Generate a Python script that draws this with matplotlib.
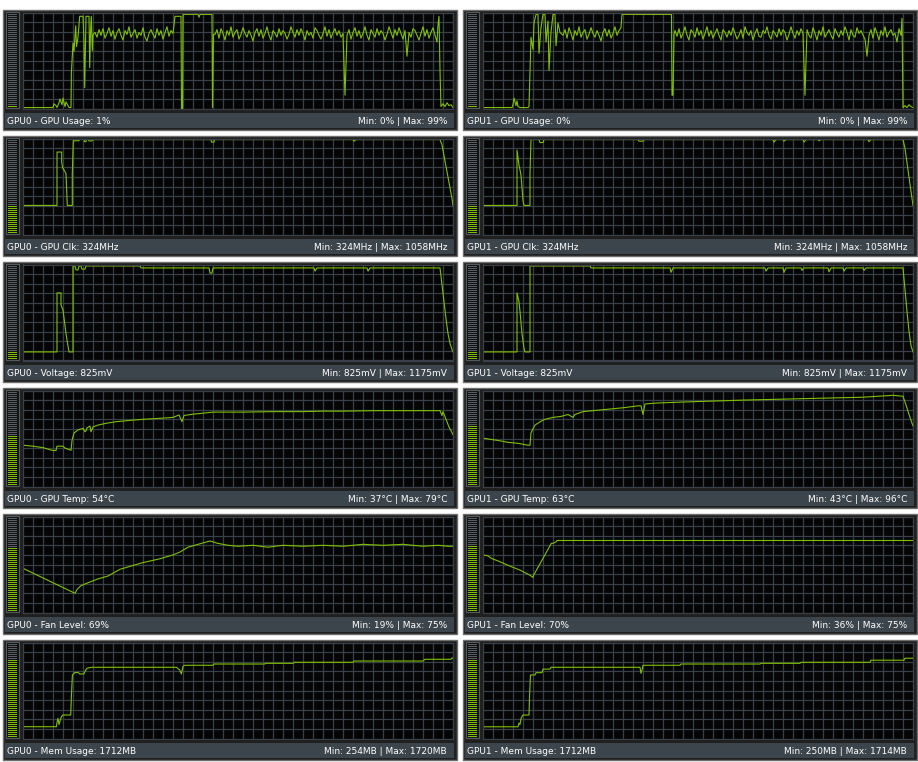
import numpy as np
import matplotlib.pyplot as plt
from matplotlib.patches import Rectangle

W, H = 918, 762

# ---- GPU usage (%) ----
u0_head_x = [0, 30, 31, 33, 34, 36, 37, 39, 40, 42, 43, 45, 46, 48, 48.4, 50, 51, 52.7, 53.5, 55, 56.7, 60, 61, 61.7, 63, 64, 66, 66.7, 67.5, 68.3, 69.3, 70]
u0_head_y = [1, 1, 5, 3, 1, 6, 10, 4, 11, 2, 7, 3, 1, 1, 38, 69, 60, 87, 65, 75, 97, 97, 70, 22, 97, 97, 97, 43, 80, 97, 61, 78]
u0_noise1 = [80, 75, 83, 77, 84, 74, 79, 85, 76, 82, 73, 80, 84, 77, 72, 82, 78, 86, 75, 79,
             83, 74, 80, 77, 85, 75, 71, 79, 83, 78, 74, 84, 77, 82, 73, 80, 86, 76, 82, 79]
u0_mid_x = [152, 156, 158, 158.5, 159.5, 160, 175, 176, 177, 189, 189.5, 190.5]
u0_mid_y = [97, 97, 97, 0, 0, 99, 99, 96, 99, 99, 1, 78]
u0_noise2 = [78, 83, 74, 84, 79, 72, 82, 77, 86, 75, 80, 83, 73, 78, 85, 79,
             75, 82, 77, 71, 80, 84, 76, 83, 74, 79, 86, 77, 72, 82, 79, 75,
             84, 77, 82, 79, 73, 78, 86, 80, 75, 83, 77, 84, 79, 72, 82, 77,
             80, 74, 85, 82, 77, 73, 79, 86, 76, 83, 74, 80, 84, 77, 82, 75,
             79, 14, 77, 83, 73, 80, 85, 76, 82, 74, 79, 86, 77, 72, 83, 79,
             75, 84, 77, 82, 79, 72, 78, 86, 80, 74, 83, 77, 85, 79, 73, 82,
             55, 80, 75, 84, 82, 77, 72, 79, 86, 76, 83, 74, 80, 85, 77, 70]
u0_tail_x = [415, 416, 417, 418, 420, 422, 424, 426, 428, 430]
u0_tail_y = [88, 97, 40, 2, 5, 2, 6, 3, 4, 1]

u1_head_x = [0, 29, 30, 31, 33, 34, 35, 37, 45, 46, 47, 48, 50, 51, 53, 55, 56, 58, 60, 62, 63, 65, 66, 68, 70, 72, 73, 75, 77, 78]
u1_head_y = [1, 1, 4, 11, 3, 8, 2, 1, 1, 2, 40, 75, 62, 90, 99, 99, 58, 85, 99, 99, 70, 92, 40, 80, 99, 99, 66, 90, 80, 79]
u1_noise1 = [77, 83, 74, 85, 79, 72, 82, 77, 86, 75, 80, 83, 73, 78, 85, 79, 75, 82, 77, 71,
             80, 84, 76, 83, 74, 79, 86, 77, 82]
u1_mid_x = [138, 139, 140, 188.5, 189, 190, 191]
u1_mid_y = [85, 99, 99, 99, 14, 14, 78]
u1_noise2 = [82, 76, 84, 74, 79, 86, 77, 72, 83, 80, 75, 85, 77, 82, 73, 79,
             86, 76, 82, 74, 79, 84, 77, 72, 83, 80, 75, 82, 77, 85, 79, 73,
             77, 83, 74, 86, 80, 77, 82, 72, 79, 84, 76, 75, 82, 79, 86, 77,
             73, 82, 79, 75, 84, 77, 83, 80, 72, 78, 86, 79, 74, 82, 77, 84,
             79, 14, 83, 77, 74, 85, 79, 72, 82, 77, 86, 75, 79, 83, 77, 73,
             84, 79, 75, 82, 77, 86, 80, 72, 83, 77, 75, 85, 79, 82, 77, 73,
             55, 77, 83, 74, 85, 79, 72, 82, 77, 86, 75, 80, 83, 77, 79, 70,
             84, 77]
u1_tail_x = [419, 420, 422, 424, 426, 428, 430]
u1_tail_y = [95, 1, 3, 1, 4, 2, 1]

# ---- GPU clock (MHz) ----
clk0_x = [0, 34, 34, 38.7, 38.7, 39.7, 42, 43, 43.7, 44.3, 49.3, 49.3, 50.3, 56, 56.5, 61, 61.5, 63, 63.5, 65,
          66, 69, 70, 188, 188.5, 191, 191.5, 330, 331, 333, 417, 419, 421, 423, 425, 427, 429, 430]
clk0_y = [324, 324, 919, 919, 808, 741, 700, 680, 485, 324, 324, 680, 1045, 1045, 1061, 1061, 1035, 1035, 1061, 1061,
          1043, 1043, 1058, 1058, 1030, 1030, 1058, 1058, 1040, 1058, 1058, 1000, 880, 760, 640, 520, 400, 324]
clk1_x = [0, 34, 34, 36, 37, 38, 40, 41, 47, 47, 48, 56, 57, 60, 61, 155, 156, 160, 161, 290,
          291, 293, 300, 301, 303, 320, 321, 323, 335, 336, 338, 385, 386, 388, 420, 422, 424, 426, 428, 430]
clk1_y = [324, 324, 940, 770, 720, 660, 380, 324, 324, 680, 1058, 1058, 1025, 1025, 1058, 1058, 1040, 1040, 1058, 1058,
          1030, 1058, 1058, 1040, 1058, 1058, 1030, 1058, 1058, 1045, 1058, 1058, 1035, 1058, 1058, 960, 800, 640, 480, 324]

# ---- voltage (mV) ----
v0_x = [0, 34, 34, 38, 38, 40, 43, 44, 46, 50, 50, 52, 53, 55, 56, 58, 59, 62, 63, 117,
        118, 186, 187, 189, 190, 291, 292, 294, 344, 345, 347, 417, 419, 421, 423, 425, 427, 429, 430]
v0_y = [825, 825, 1066, 1066, 1017, 996, 900, 874, 825, 825, 1176, 1176, 1160, 1160, 1176, 1176, 1163, 1163, 1176, 1176,
        1168, 1168, 1147, 1147, 1168, 1168, 1155, 1168, 1168, 1155, 1168, 1168, 1100, 1030, 960, 900, 860, 835, 825]
v1_x = [0, 34, 34, 36, 37, 39, 41, 42, 47, 47, 107, 108, 187, 188, 190, 282, 283, 285, 300, 301,
        303, 318, 319, 321, 345, 346, 348, 360, 361, 363, 380, 381, 383, 420, 422, 424, 426, 428, 430]
v1_y = [825, 825, 1066, 1030, 990, 900, 840, 825, 825, 1176, 1176, 1168, 1168, 1150, 1168, 1168, 1155, 1168, 1168, 1150,
        1168, 1168, 1158, 1168, 1168, 1152, 1168, 1168, 1155, 1168, 1168, 1158, 1168, 1168, 1080, 990, 910, 850, 825]

# ---- temperature (°C) ----
t0_x = [0, 10, 20, 28, 30, 33, 34, 40, 42, 48, 49, 51, 55, 60, 62, 63, 64, 67, 68, 70,
        75, 83, 93, 103, 120, 137, 150, 156, 159, 161, 171, 177, 190, 220, 250, 280, 300, 320, 350, 380,
        410, 417, 419, 420, 423, 426, 430]
t0_y = [43, 42, 40.5, 38, 37.5, 37.5, 42, 42, 40, 37.7, 48, 55.7, 59, 60.6, 57, 58, 61, 63, 57, 62,
        64, 65.8, 67.5, 68.5, 70, 71, 72, 74.5, 67.5, 74, 75.5, 76, 77.5, 77.5, 78, 78, 78.5, 78.5, 79, 79,
        79, 79, 74, 78, 70, 62, 54]
t1_x = [0, 8, 15, 25, 35, 45, 47, 48, 50, 52, 55, 58, 62, 70, 78, 85, 90, 92, 100, 120,
        140, 155, 158, 160, 162, 175, 200, 230, 260, 300, 340, 380, 410, 420, 423, 426, 430]
t1_y = [50.5, 49, 48, 46, 45, 43, 43, 56, 60, 64, 66, 68, 70, 72, 73, 75, 72, 75, 78, 80,
        82, 84, 84, 75, 86, 87, 88, 89, 90, 91, 92, 93, 95, 94, 85, 75, 63]

# ---- fan level (%) ----
f0_x = [0, 52, 54, 58, 65, 75, 85, 97, 110, 120, 137, 150, 157, 165, 175, 187, 195, 205, 215, 230,
        245, 260, 280, 300, 320, 340, 360, 380, 400, 415, 425, 430]
f0_y = [46, 20, 24, 28, 31, 35, 38, 45, 49, 52, 56, 60, 63, 68, 71, 74.5, 72, 70, 69, 70,
        68, 70, 69, 70, 69, 71, 70, 71, 69, 70, 69, 69]
f1_x = [0, 5, 8.4, 16.7, 26.7, 36.7, 46.7, 50, 50.7, 68.3, 70, 73.4, 74, 430]
f1_y = [60, 59, 56.4, 53, 48.4, 44.3, 39, 36.6, 39, 72, 72, 73.8, 75, 75]

# ---- memory usage (MB) ----
m0_x = [0, 33.4, 34, 35, 36, 37.4, 38.4, 40, 47.7, 48.4, 49.4, 51.7, 55, 56.7, 60.7, 62.7, 64, 68.4, 153.4, 156.7,
        158.4, 160, 161.7, 190, 190.7, 241.7, 242.4, 270, 271.7, 330, 331, 400, 402, 428, 429, 430]
m0_y = [252, 252, 337, 431, 300, 400, 465, 501, 501, 900, 1355, 1404, 1410, 1376, 1376, 1461, 1498, 1519, 1519, 1461,
        1376, 1540, 1562, 1562, 1589, 1589, 1604, 1604, 1626, 1626, 1653, 1653, 1690, 1690, 1717, 1717]
m1_x = [0, 35, 36, 37, 38, 39, 40, 46, 46.5, 47.5, 52, 53, 59, 60, 67, 68, 157, 158, 159, 160,
        197, 198, 277, 278, 317, 318, 387, 388, 421, 422, 430]
m1_y = [250, 250, 330, 300, 420, 470, 501, 501, 880, 1355, 1355, 1404, 1404, 1480, 1480, 1519, 1519, 1390, 1460, 1562,
        1562, 1589, 1589, 1604, 1604, 1626, 1626, 1670, 1670, 1712, 1712]

# graph ranges for each row
ylims = [(0, 101), (0, 1070), (790, 1182), (0, 100), (0, 100), (0, 2048)]

labels0 = ["GPU0 - GPU Usage: 1%", "GPU0 - GPU Clk: 324MHz", "GPU0 - Voltage: 825mV",
           "GPU0 - GPU Temp: 54°C", "GPU0 - Fan Level: 69%", "GPU0 - Mem Usage: 1712MB"]
minmax0 = ["Min: 0% | Max: 99%", "Min: 324MHz | Max: 1058MHz", "Min: 825mV | Max: 1175mV",
           "Min: 37°C | Max: 79°C", "Min: 19% | Max: 75%", "Min: 254MB | Max: 1720MB"]
labels1 = ["GPU1 - GPU Usage: 0%", "GPU1 - GPU Clk: 324MHz", "GPU1 - Voltage: 825mV",
           "GPU1 - GPU Temp: 63°C", "GPU1 - Fan Level: 70%", "GPU1 - Mem Usage: 1712MB"]
minmax1 = ["Min: 0% | Max: 99%", "Min: 324MHz | Max: 1058MHz", "Min: 825mV | Max: 1175mV",
           "Min: 43°C | Max: 96°C", "Min: 36% | Max: 75%", "Min: 250MB | Max: 1714MB"]
current0 = [1, 324, 825, 54, 69, 1712]
current1 = [0, 324, 825, 63, 70, 1712]

GREEN = '#80c000'
GRID = '#3a4047'


def usage_series(hx, hy, n1, n1_start, mx, my, n2, tx, ty):
    # noisy parts are sampled every 2 graph pixels
    xs = hx + list(range(n1_start, n1_start + 2 * len(n1), 2)) + mx + list(range(192, 192 + 2 * len(n2), 2)) + tx
    ys = hy + n1 + my + n2 + ty
    return xs, ys


series0 = [usage_series(u0_head_x, u0_head_y, u0_noise1, 72, u0_mid_x, u0_mid_y, u0_noise2, u0_tail_x, u0_tail_y),
           (clk0_x, clk0_y), (v0_x, v0_y), (t0_x, t0_y), (f0_x, f0_y), (m0_x, m0_y)]
series1 = [usage_series(u1_head_x, u1_head_y, u1_noise1, 80, u1_mid_x, u1_mid_y, u1_noise2, u1_tail_x, u1_tail_y),
           (clk1_x, clk1_y), (v1_x, v1_y), (t1_x, t1_y), (f1_x, f1_y), (m1_x, m1_y)]

fig = plt.figure(figsize=(W / 100, H / 100), dpi=100)
fig.patch.set_facecolor('white')
bg = fig.add_axes([0, 0, 1, 1])
bg.set_xlim(0, W)
bg.set_ylim(H, 0)
bg.axis('off')


def px_axes(x, y, w, h):
    return fig.add_axes([x / W, 1 - (y + h) / H, w / W, h / H])


def draw_panel(col, row, xs, ys, ylim, label, minmax, cur):
    ox = 2 + 460 * col
    oy = 9 + 126 * row
    # outer frame
    bg.add_patch(Rectangle((ox + 0.5, oy + 0.5), 454, 120, fc='#202020', ec='#6e6e6e', lw=1))
    # level meter on the left, one bar per 2 pixel rows
    bg.add_patch(Rectangle((ox + 4, oy + 3), 13, 96, fc='#111111', ec='#555a5e', lw=0.8))
    n = 47
    frac = (cur - ylim[0]) / (ylim[1] - ylim[0])
    nlit = max(1, int(round(frac * n)))
    for i in range(n):
        c = GREEN if i < nlit else '#585e63'
        bg.add_patch(Rectangle((ox + 6, oy + 97 - 2 * i), 9, 1, fc=c, ec='none', antialiased=False))
    # graph
    ax = px_axes(ox + 21, oy + 3.5, 430, 96)
    ax.set_facecolor('#050505')
    ax.plot(xs, ys, color=GREEN, lw=0.8)
    ax.set_xlim(0, 430)
    ax.set_ylim(*ylim)
    ax.set_xticks(np.arange(0, 431, 10))
    ax.set_yticks(np.linspace(ylim[0], ylim[1], 11))
    ax.grid(True, color=GRID, lw=0.9)
    ax.set_axisbelow(True)
    ax.tick_params(length=0, labelbottom=False, labelleft=False)
    for s in ax.spines.values():
        s.set_color(GRID)
    # label strip
    bg.add_patch(Rectangle((ox + 3, oy + 104), 449, 15, fc='#3c454c', ec='none'))
    bg.text(ox + 5, oy + 112, label, color='white', fontsize=6.5, va='center', ha='left')
    bg.text(ox + 445, oy + 112, minmax, color='white', fontsize=6.5, va='center', ha='right')


for r in range(6):
    draw_panel(0, r, series0[r][0], series0[r][1], ylims[r], labels0[r], minmax0[r], current0[r])
    draw_panel(1, r, series1[r][0], series1[r][1], ylims[r], labels1[r], minmax1[r], current1[r])

fig.savefig('out.png', dpi=100, facecolor='white')
